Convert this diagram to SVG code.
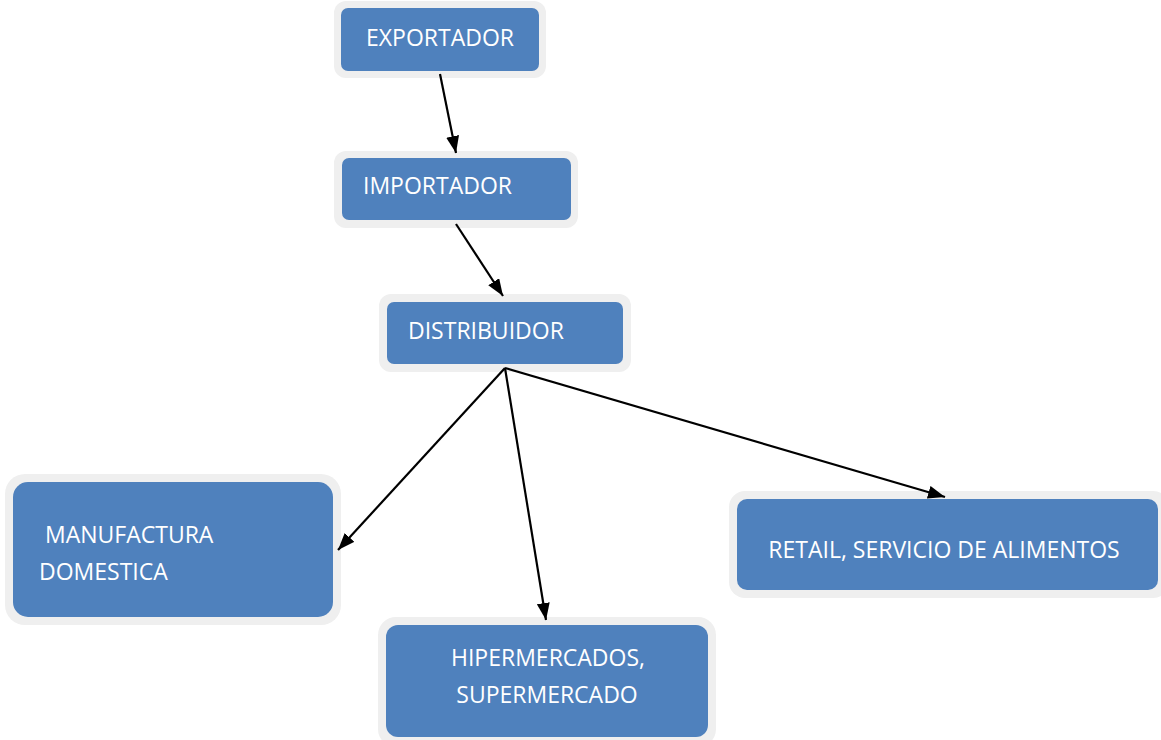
<svg xmlns="http://www.w3.org/2000/svg" width="1161" height="740" viewBox="0 0 1161 740">
<defs>
<style>
.outer{fill:#efefef}
.box{fill:#4f81bd}
.t{font-family:"Open Sans","Liberation Sans",sans-serif;font-size:23px;fill:#ffffff}
.c{stroke:#000;stroke-width:2.2;fill:none;marker-end:url(#ah)}
</style>
<marker id="ah" viewBox="0 0 17 13" refX="17" refY="6.5" markerWidth="17" markerHeight="13" markerUnits="userSpaceOnUse" orient="auto">
<path d="M0,0 L17,6.5 L0,13 Z" fill="#000"/>
</marker>
</defs>
<rect width="1161" height="740" fill="#fff"/>
<g id="exportador">
<rect class="outer" x="334" y="1" width="212" height="77" rx="12"/>
<rect class="box" x="341" y="8" width="198" height="63" rx="7"/>
<text class="t" x="440" y="46" text-anchor="middle">EXPORTADOR</text>
</g>
<g id="importador">
<rect class="outer" x="334" y="151" width="244" height="77" rx="12"/>
<rect class="box" x="342" y="158" width="229" height="62" rx="7"/>
<text class="t" x="363" y="194">IMPORTADOR</text>
</g>
<g id="distribuidor">
<rect class="outer" x="379" y="294" width="252" height="78" rx="12"/>
<rect class="box" x="387" y="302" width="236" height="62" rx="7"/>
<text class="t" x="408" y="339">DISTRIBUIDOR</text>
</g>
<g id="manufactura">
<rect class="outer" x="5" y="474" width="336" height="151" rx="20"/>
<rect class="box" x="13" y="482" width="320" height="135" rx="15"/>
<text class="t" x="45" y="543">MANUFACTURA</text>
<text class="t" x="39" y="580">DOMESTICA</text>
</g>
<g id="hipermercados">
<rect class="outer" x="378" y="617" width="338" height="130" rx="18"/>
<rect class="box" x="386" y="625" width="322" height="112" rx="12"/>
<text class="t" x="548" y="666" text-anchor="middle">HIPERMERCADOS,</text>
<text class="t" x="547" y="703" text-anchor="middle">SUPERMERCADO</text>
</g>
<g id="retail">
<rect class="outer" x="729" y="491" width="440" height="107" rx="16"/>
<rect class="box" x="737" y="499" width="421" height="91" rx="10"/>
<text class="t" x="944" y="558" text-anchor="middle">RETAIL, SERVICIO DE ALIMENTOS</text>
</g>
<g id="connectors">
<line class="c" x1="440" y1="74" x2="456" y2="153"/>
<line class="c" x1="456" y1="224" x2="503" y2="296"/>
<line class="c" x1="505" y1="368" x2="338" y2="550"/>
<line class="c" x1="505" y1="368" x2="546" y2="620"/>
<line class="c" x1="505" y1="368" x2="945" y2="497"/>
</g>
</svg>
